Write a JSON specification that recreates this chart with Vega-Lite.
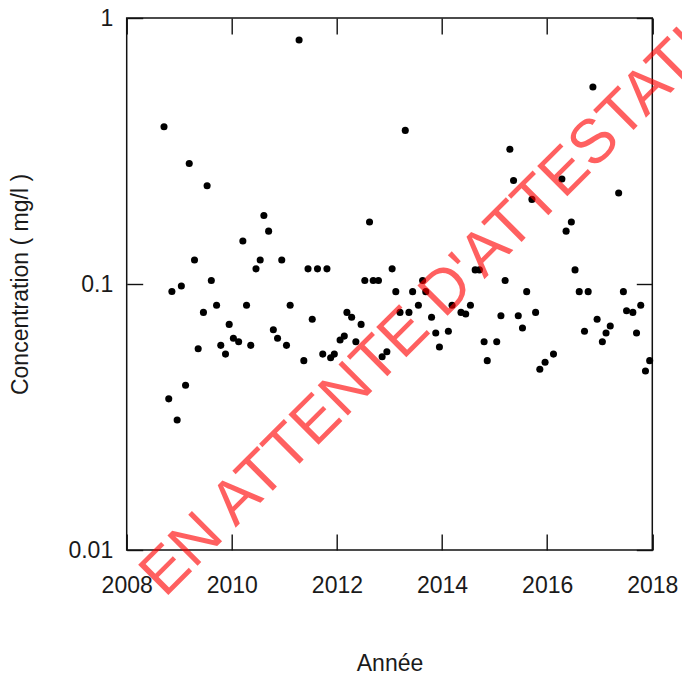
{
  "$schema": "https://vega.github.io/schema/vega-lite/v6.json",
  "width": 525.6,
  "height": 532,
  "autosize": "none",
  "padding": {"left": 126.7, "top": 18, "right": 29.7, "bottom": 127},
  "background": "#ffffff",
  "config": {
    "font": "Liberation Sans",
    "view": {"stroke": "#111111", "strokeWidth": 1.5},
    "axis": {
      "grid": false,
      "domain": false,
      "tickColor": "#111111",
      "tickWidth": 1.4,
      "tickSize": -16,
      "labelFont": "Liberation Sans",
      "labelFontSize": 23,
      "labelColor": "#1a1a1a",
      "labelFlush": false,
      "labelOverlap": false,
      "labelBound": false,
      "titleFont": "Liberation Sans",
      "titleFontSize": 23,
      "titleFontWeight": "normal",
      "titleColor": "#1a1a1a"
    }
  },
  "datasets": {
    "mesures": [
      {"annee": 2008.71, "concentration": 0.390},
      {"annee": 2008.80, "concentration": 0.0370},
      {"annee": 2008.86, "concentration": 0.0937},
      {"annee": 2008.96, "concentration": 0.0308},
      {"annee": 2009.04, "concentration": 0.0983},
      {"annee": 2009.12, "concentration": 0.0416},
      {"annee": 2009.19, "concentration": 0.284},
      {"annee": 2009.29, "concentration": 0.123},
      {"annee": 2009.36, "concentration": 0.0571},
      {"annee": 2009.46, "concentration": 0.0782},
      {"annee": 2009.53, "concentration": 0.234},
      {"annee": 2009.61, "concentration": 0.103},
      {"annee": 2009.71, "concentration": 0.0832},
      {"annee": 2009.79, "concentration": 0.0588},
      {"annee": 2009.88, "concentration": 0.0545},
      {"annee": 2009.95, "concentration": 0.0705},
      {"annee": 2010.03, "concentration": 0.0625},
      {"annee": 2010.13, "concentration": 0.0607},
      {"annee": 2010.21, "concentration": 0.145},
      {"annee": 2010.28, "concentration": 0.0832},
      {"annee": 2010.36, "concentration": 0.0588},
      {"annee": 2010.46, "concentration": 0.114},
      {"annee": 2010.54, "concentration": 0.123},
      {"annee": 2010.61, "concentration": 0.181},
      {"annee": 2010.70, "concentration": 0.158},
      {"annee": 2010.79, "concentration": 0.0673},
      {"annee": 2010.87, "concentration": 0.0625},
      {"annee": 2010.95, "concentration": 0.123},
      {"annee": 2011.04, "concentration": 0.0588},
      {"annee": 2011.11, "concentration": 0.0832},
      {"annee": 2011.28, "concentration": 0.827},
      {"annee": 2011.37, "concentration": 0.0515},
      {"annee": 2011.45, "concentration": 0.114},
      {"annee": 2011.53, "concentration": 0.0737},
      {"annee": 2011.63, "concentration": 0.114},
      {"annee": 2011.73, "concentration": 0.0545},
      {"annee": 2011.81, "concentration": 0.114},
      {"annee": 2011.88, "concentration": 0.0528},
      {"annee": 2011.95, "concentration": 0.0545},
      {"annee": 2012.06, "concentration": 0.0616},
      {"annee": 2012.14, "concentration": 0.0637},
      {"annee": 2012.19, "concentration": 0.0782},
      {"annee": 2012.28, "concentration": 0.0750},
      {"annee": 2012.36, "concentration": 0.0607},
      {"annee": 2012.46, "concentration": 0.0705},
      {"annee": 2012.53, "concentration": 0.103},
      {"annee": 2012.62, "concentration": 0.171},
      {"annee": 2012.69, "concentration": 0.103},
      {"annee": 2012.79, "concentration": 0.103},
      {"annee": 2012.86, "concentration": 0.0533},
      {"annee": 2012.95, "concentration": 0.0556},
      {"annee": 2013.05, "concentration": 0.114},
      {"annee": 2013.12, "concentration": 0.0936},
      {"annee": 2013.20, "concentration": 0.0782},
      {"annee": 2013.30, "concentration": 0.378},
      {"annee": 2013.37, "concentration": 0.0782},
      {"annee": 2013.44, "concentration": 0.0936},
      {"annee": 2013.55, "concentration": 0.0832},
      {"annee": 2013.63, "concentration": 0.103},
      {"annee": 2013.69, "concentration": 0.0936},
      {"annee": 2013.80, "concentration": 0.0750},
      {"annee": 2013.88, "concentration": 0.0654},
      {"annee": 2013.95, "concentration": 0.0580},
      {"annee": 2014.12, "concentration": 0.0664},
      {"annee": 2014.19, "concentration": 0.0832},
      {"annee": 2014.36, "concentration": 0.0782},
      {"annee": 2014.45, "concentration": 0.0771},
      {"annee": 2014.54, "concentration": 0.0832},
      {"annee": 2014.63, "concentration": 0.113},
      {"annee": 2014.71, "concentration": 0.113},
      {"annee": 2014.80, "concentration": 0.0607},
      {"annee": 2014.86, "concentration": 0.0515},
      {"annee": 2015.04, "concentration": 0.0607},
      {"annee": 2015.12, "concentration": 0.0760},
      {"annee": 2015.20, "concentration": 0.103},
      {"annee": 2015.29, "concentration": 0.321},
      {"annee": 2015.36, "concentration": 0.245},
      {"annee": 2015.45, "concentration": 0.0760},
      {"annee": 2015.53, "concentration": 0.0683},
      {"annee": 2015.61, "concentration": 0.0936},
      {"annee": 2015.71, "concentration": 0.208},
      {"annee": 2015.78, "concentration": 0.0782},
      {"annee": 2015.86, "concentration": 0.0478},
      {"annee": 2015.96, "concentration": 0.0508},
      {"annee": 2016.12, "concentration": 0.0545},
      {"annee": 2016.28, "concentration": 0.248},
      {"annee": 2016.36, "concentration": 0.158},
      {"annee": 2016.46, "concentration": 0.171},
      {"annee": 2016.53, "concentration": 0.113},
      {"annee": 2016.61, "concentration": 0.0936},
      {"annee": 2016.71, "concentration": 0.0664},
      {"annee": 2016.78, "concentration": 0.0936},
      {"annee": 2016.87, "concentration": 0.550},
      {"annee": 2016.95, "concentration": 0.0737},
      {"annee": 2017.05, "concentration": 0.0607},
      {"annee": 2017.12, "concentration": 0.0654},
      {"annee": 2017.20, "concentration": 0.0695},
      {"annee": 2017.36, "concentration": 0.220},
      {"annee": 2017.45, "concentration": 0.0936},
      {"annee": 2017.51, "concentration": 0.0793},
      {"annee": 2017.63, "concentration": 0.0782},
      {"annee": 2017.70, "concentration": 0.0654},
      {"annee": 2017.78, "concentration": 0.0832},
      {"annee": 2017.87, "concentration": 0.0471},
      {"annee": 2017.95, "concentration": 0.0515}
    ],
    "filigrane": [
      {"texte": "EN ATTENTE D'ATTESTATION", "annee": 2008.725, "concentration": 0.00657}
    ]
  },
  "layer": [
    {
      "data": {"name": "mesures"},
      "mark": {"type": "circle", "color": "#000000", "opacity": 1, "size": 50},
      "encoding": {
        "x": {
          "field": "annee",
          "type": "quantitative",
          "scale": {"domain": [2008, 2018], "nice": false, "zero": false},
          "axis": {
            "orient": "bottom",
            "values": [2008, 2010, 2012, 2014, 2016, 2018],
            "format": "d",
            "labelPadding": 40,
            "title": "Année",
            "titleX": 262.8,
            "titleY": 120,
            "titleAlign": "center",
            "titleBaseline": "alphabetic"
          }
        },
        "y": {
          "field": "concentration",
          "type": "quantitative",
          "scale": {"type": "log", "domain": [0.01, 1], "nice": false},
          "axis": {
            "orient": "left",
            "values": [0.01, 0.1, 1],
            "format": "~g",
            "labelPadding": 30,
            "labelAlign": "right",
            "labelBaseline": "middle",
            "title": "Concentration ( mg/l )",
            "titleAngle": 270,
            "titleX": -99.7,
            "titleY": 266,
            "titleAlign": "center",
            "titleBaseline": "alphabetic"
          }
        }
      }
    },
    {
      "data": {"name": "filigrane"},
      "mark": {
        "type": "text",
        "align": "left",
        "baseline": "alphabetic",
        "angle": -45,
        "font": "Liberation Sans",
        "fontSize": 62,
        "color": "#ff0000",
        "opacity": 0.62
      },
      "encoding": {
        "x": {
          "field": "annee",
          "type": "quantitative",
          "axis": {
            "orient": "top",
            "values": [2008, 2010, 2012, 2014, 2016, 2018],
            "labels": false,
            "title": null
          }
        },
        "y": {
          "field": "concentration",
          "type": "quantitative",
          "axis": {
            "orient": "right",
            "values": [0.01, 0.1, 1],
            "labels": false,
            "title": null
          }
        },
        "text": {"field": "texte", "type": "nominal"}
      }
    }
  ],
  "resolve": {"axis": {"x": "independent", "y": "independent"}}
}
